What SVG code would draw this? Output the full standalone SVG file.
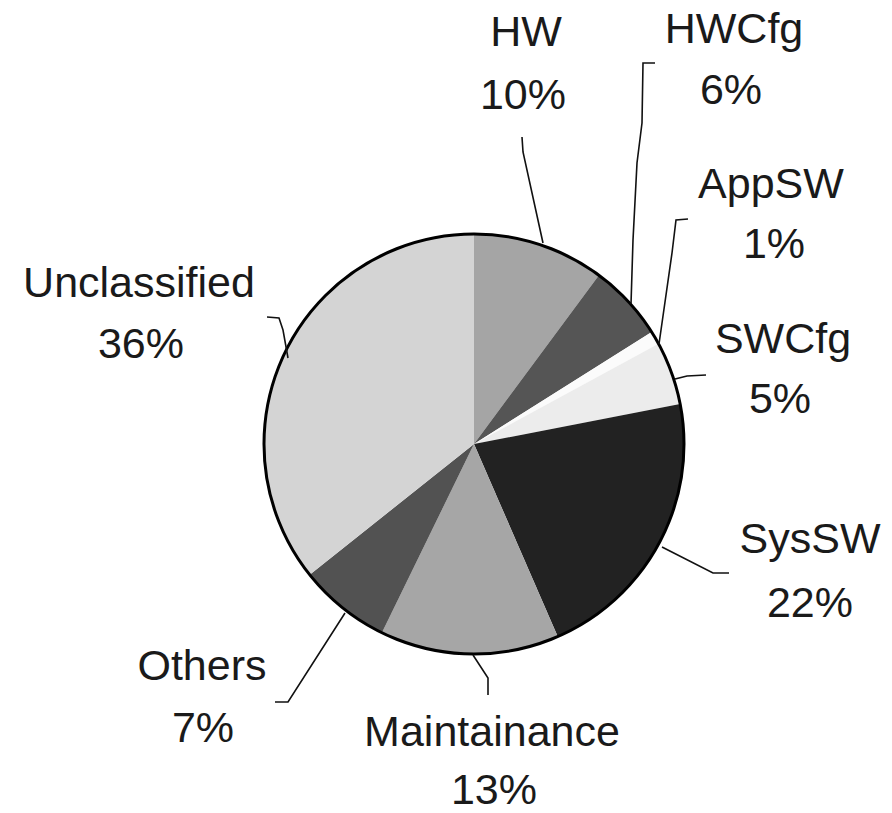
<svg xmlns="http://www.w3.org/2000/svg" width="892" height="813" viewBox="0 0 892 813">
<style>
text{font-family:"Liberation Sans",Arial,sans-serif;font-size:43px;fill:#1a1a1a;text-anchor:middle}
.s{stroke:none}
.ld{fill:none;stroke:#111;stroke-width:1.6}
</style>
<rect width="892" height="813" fill="#fff"/>
<g id="slices">
<g id="slice-hw"><path class="s" d="M474,444 L474,234 A210,210 0 0 1 598.9,275.2 Z" fill="#a5a5a5"/></g>
<g id="slice-hwcfg"><path class="s" d="M474,444 L598.9,275.2 A210,210 0 0 1 651.7,332.1 Z" fill="#555555"/></g>
<g id="slice-appsw"><path class="s" d="M474,444 L651.7,332.1 A210,210 0 0 1 658.5,343.8 Z" fill="#fbfbfb"/></g>
<g id="slice-swcfg"><path class="s" d="M474,444 L658.5,343.8 A210,210 0 0 1 680.1,403.9 Z" fill="#ececec"/></g>
<g id="slice-syssw"><path class="s" d="M474,444 L680.1,403.9 A210,210 0 0 1 557.7,636.6 Z" fill="#222222"/></g>
<g id="slice-maint"><path class="s" d="M474,444 L557.7,636.6 A210,210 0 0 1 381.9,632.7 Z" fill="#a6a6a6"/></g>
<g id="slice-others"><path class="s" d="M474,444 L381.9,632.7 A210,210 0 0 1 309.7,574.7 Z" fill="#525252"/></g>
<g id="slice-unclassified"><path class="s" d="M474,444 L309.7,574.7 A210,210 0 0 1 474,234 Z" fill="#d4d4d4"/></g>
<circle cx="474" cy="444" r="210" fill="none" stroke="#000" stroke-width="3"/>
</g>
<g id="connectors">
<path class="ld" d="M522,137 L523,152 L543,243"/>
<path class="ld" d="M655,63 L643,63 L642,123 L637,163 L633,240 L631,304"/>
<path class="ld" d="M688,219 L676,220 L672,253 L659,344"/>
<path class="ld" d="M706,375 L687,376 L675,379"/>
<path class="ld" d="M662,547 L713,573 L729,573"/>
<path class="ld" d="M473,655 L488,678 L488,695"/>
<path class="ld" d="M345,613 L288,702 L275,702"/>
<path class="ld" d="M267,317 L279,318 L283,330 L288,358"/>
</g>
<g id="label-hw"><text x="526" y="46">HW</text><text x="523" y="109">10%</text></g>
<g id="label-hwcfg"><text x="734" y="43">HWCfg</text><text x="731" y="104">6%</text></g>
<g id="label-appsw"><text x="771" y="198">AppSW</text><text x="774" y="258">1%</text></g>
<g id="label-swcfg"><text x="783" y="353">SWCfg</text><text x="780" y="413">5%</text></g>
<g id="label-syssw"><text x="810" y="553">SysSW</text><text x="810" y="617">22%</text></g>
<g id="label-maint"><text x="492" y="746">Maintainance</text><text x="494" y="804">13%</text></g>
<g id="label-others"><text x="202" y="680">Others</text><text x="203" y="742">7%</text></g>
<g id="label-unclassified"><text x="139" y="297">Unclassified</text><text x="141" y="358">36%</text></g>
</svg>
